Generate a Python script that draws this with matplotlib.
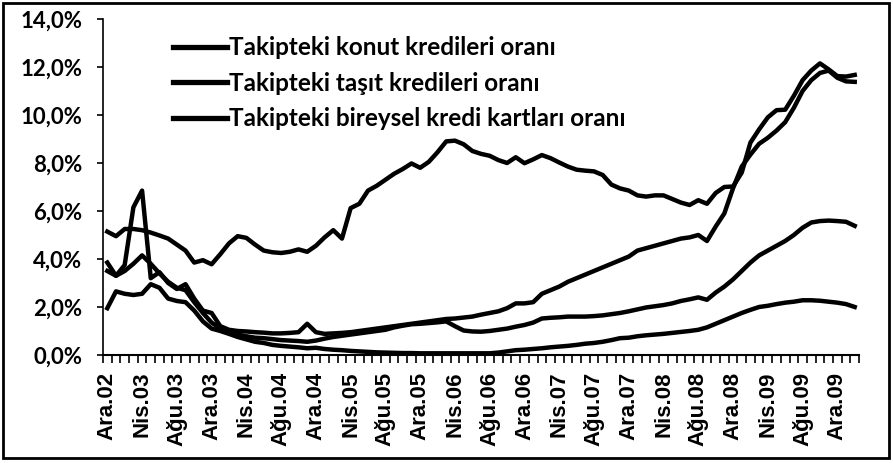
import matplotlib
matplotlib.use("Agg")
import matplotlib.pyplot as plt
from matplotlib.lines import Line2D
from matplotlib.patches import Rectangle
from matplotlib.ticker import FuncFormatter, FixedLocator

# Monthly categories, Ara.02 .. Şub.10
month_names = ["Oca", "Şub", "Mar", "Nis", "May", "Haz",
               "Tem", "Ağu", "Eyl", "Eki", "Kas", "Ara"]
months = ["Ara.02"] + [f"{m}.{y:02d}" for y in range(3, 10) for m in month_names] + ["Oca.10", "Şub.10"]

# values (%)
kart = [5.14, 4.95, 5.25, 5.25, 5.2, 5.1, 4.98, 4.85, 4.6, 4.35, 3.85, 3.95,
        3.78, 4.2, 4.65, 4.95, 4.88, 4.6, 4.35, 4.28, 4.25, 4.3, 4.4, 4.3,
        4.55, 4.9, 5.2, 4.85, 6.12, 6.3, 6.85, 7.05, 7.3, 7.55, 7.75, 7.98,
        7.8, 8.05, 8.45, 8.9, 8.93, 8.78, 8.5, 8.38, 8.3, 8.12, 8.0, 8.24,
        7.99, 8.15, 8.33, 8.2, 8.02, 7.85, 7.72, 7.68, 7.65, 7.5, 7.1, 6.94,
        6.85, 6.65, 6.6, 6.65, 6.65, 6.5, 6.35, 6.25, 6.45, 6.3, 6.75, 7.0,
        7.02, 7.6, 8.85, 9.4, 9.9, 10.2, 10.22, 10.8, 11.45, 11.85, 12.15, 11.9,
        11.62, 11.6, 11.67]

diger = [3.85, 3.3, 3.75, 6.15, 6.85, 3.2, 3.45, 3.0, 2.75, 2.95, 2.35, 1.85,
         1.75, 1.2, 1.05, 1.0, 0.98, 0.95, 0.93, 0.9, 0.9, 0.92, 0.95, 1.3,
         0.95, 0.88, 0.9, 0.92, 0.95, 1.0, 1.05, 1.1, 1.15, 1.2, 1.25, 1.3,
         1.35, 1.4, 1.45, 1.5, 1.52, 1.56, 1.6, 1.68, 1.75, 1.82, 1.95, 2.15,
         2.15, 2.2, 2.55, 2.7, 2.85, 3.05, 3.2, 3.35, 3.5, 3.65, 3.8, 3.95,
         4.1, 4.35, 4.45, 4.55, 4.65, 4.75, 4.85, 4.9, 5.0, 4.75, 5.35, 5.9,
         6.95, 7.85, 8.35, 8.8, 9.05, 9.35, 9.7, 10.3, 11.0, 11.45, 11.75, 11.85,
         11.55, 11.4, 11.38]

tasit = [3.5, 3.3, 3.5, 3.8, 4.15, 3.8, 3.4, 3.05, 2.8, 2.7, 2.2, 1.75,
         1.35, 1.1, 0.95, 0.85, 0.78, 0.72, 0.7, 0.66, 0.62, 0.6, 0.58, 0.55,
         0.6, 0.68, 0.75, 0.8, 0.85, 0.9, 0.95, 1.0, 1.05, 1.15, 1.22, 1.28,
         1.3, 1.33, 1.36, 1.4, 1.2, 1.02, 0.98, 0.97, 1.0, 1.05, 1.1, 1.18,
         1.25, 1.35, 1.52, 1.55, 1.57, 1.6, 1.6, 1.6, 1.62, 1.65, 1.7, 1.75,
         1.82, 1.9, 1.98, 2.03, 2.08, 2.15, 2.25, 2.32, 2.4, 2.3, 2.6, 2.85,
         3.15, 3.5, 3.85, 4.15, 4.35, 4.55, 4.75, 5.0, 5.3, 5.52, 5.58, 5.6,
         5.58, 5.55, 5.38]

konut = [1.95, 2.65, 2.55, 2.5, 2.55, 2.95, 2.8, 2.35, 2.25, 2.2, 1.85, 1.4,
         1.1, 1.0, 0.88, 0.75, 0.65, 0.55, 0.5, 0.42, 0.38, 0.35, 0.32, 0.28,
         0.3, 0.25, 0.22, 0.2, 0.17, 0.15, 0.13, 0.11, 0.1, 0.09, 0.08, 0.08,
         0.07, 0.07, 0.07, 0.07, 0.07, 0.07, 0.07, 0.07, 0.07, 0.1, 0.15, 0.2,
         0.22, 0.25, 0.28, 0.32, 0.35, 0.38, 0.42, 0.47, 0.5, 0.55, 0.62, 0.7,
         0.72, 0.78, 0.82, 0.85, 0.88, 0.92, 0.96, 1.0, 1.05, 1.15, 1.3, 1.45,
         1.6, 1.75, 1.88, 2.0, 2.05, 2.12, 2.18, 2.22, 2.28, 2.28, 2.26, 2.22,
         2.18, 2.12, 2.0]

legend_labels = ["Takipteki konut kredileri oranı",
                 "Takipteki taşıt kredileri oranı",
                 "Takipteki bireysel kredi kartları oranı"]

fig = plt.figure(figsize=(8.93, 4.63), dpi=100)
ax = fig.add_axes([0.1153, 0.2333, 0.8467, 0.7257])

x = list(range(len(months)))
for series in [kart, diger, tasit, konut]:
    ax.plot(x, series, color="black", lw=3.2, solid_joinstyle="round")

ax.set_xlim(-0.5, len(months) - 0.5)
ax.set_ylim(0, 14)

for side in ["top", "right"]:
    ax.spines[side].set_visible(False)
ax.spines["left"].set_linewidth(1.2)
ax.spines["bottom"].set_linewidth(1.5)

# y axis
ax.set_yticks([0, 2, 4, 6, 8, 10, 12, 14])
ax.yaxis.set_major_formatter(FuncFormatter(lambda v, p: f"{v:.1f}%".replace(".", ",")))
ax.tick_params(axis="y", length=4, width=1.2, pad=11)
for lab in ax.get_yticklabels():
    lab.set_fontfamily("Lato")
    lab.set_fontweight("bold")
    lab.set_fontsize(16)

# x axis: label every 4th month, tick at every category boundary
ax.xaxis.set_major_locator(FixedLocator(x[::4]))
ax.set_xticklabels(months[::4], rotation=90, fontsize=16,
                   fontfamily="Liberation Sans", fontweight="bold")
ax.tick_params(axis="x", which="major", length=0, pad=12)
ax.xaxis.set_minor_locator(FixedLocator([i - 0.5 for i in range(len(months) + 1)]))
ax.tick_params(axis="x", which="minor", length=6, width=1.2)

handles = [Line2D([], [], color="black", lw=3.8) for _ in legend_labels]
leg = ax.legend(handles, legend_labels, loc="upper left",
                bbox_to_anchor=(0.076, 0.985), frameon=False,
                handlelength=2.25, handletextpad=0.08, labelspacing=0.52,
                borderpad=0, prop={"family": "Lato", "size": 17.5, "weight": "bold"})

# outer frame around the picture
fig.patches.append(Rectangle((0.003, 0.01), 0.992, 0.984, transform=fig.transFigure,
                             fill=False, edgecolor="black", lw=2))

fig.savefig("out.png", dpi=100)
